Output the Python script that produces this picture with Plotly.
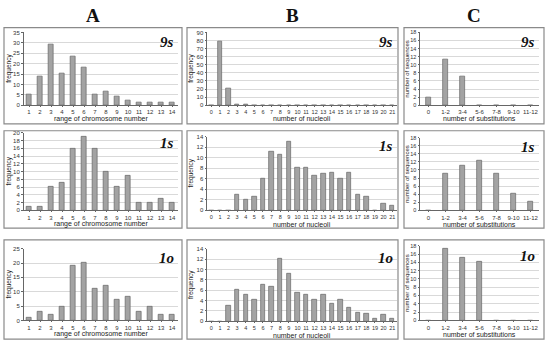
import plotly.graph_objects as go

W, H = 550, 346

# ---- data ----
a_cats = list(range(1, 15))
a_9s = [5.4, 13.6, 29.2, 15.5, 23.5, 18.3, 5.4, 6.5, 4.1, 2.5, 1.3, 1.3, 1.3, 1.3]
a_1s = [1, 1, 6, 7, 16, 19, 16, 10, 6, 9, 2, 2, 3, 2]
a_1o = [1, 3.2, 2, 4.9, 19.2, 20.2, 11.2, 12, 7.4, 8.2, 3.2, 4.9, 2, 2]

b_cats = list(range(0, 22))
b_9s = [0, 79, 21, 1, 1, 0, 0, 0, 0, 0, 0, 0, 0, 0, 0, 0, 0, 0, 0, 0, 0, 0]
b_1s = [0, 0, 0, 3, 2, 2.65, 6.1, 11.2, 10.6, 13.1, 8.1, 8.1, 6.5, 7, 7.1, 6.1, 7.1, 3, 2.65, 0, 1.3, 0.8]
b_1o = [0, 0, 3.1, 6.2, 5.2, 4.1, 7.1, 6.7, 12, 9.1, 5.6, 5.2, 4.1, 5.2, 3.5, 4.1, 2.6, 1.6, 1.5, 0.6, 1.3, 0.6]

c_cats = ["0", "1-2", "3-4", "5-6", "7-8", "9-10", "11-12"]
c_9s = [2, 11.2, 7.2, 0, 0, 0, 0]
c_1s = [0, 9.2, 11.1, 12.3, 9.2, 4.1, 2.1]
c_1o = [0, 17.2, 15.1, 14.2, 0, 0, 0]

col_titles = ["A", "B", "C"]
row_labels = ["9s", "1s", "1o"]
x_titles = ["range of chromosome number", "number of nucleoli", "number of substitutions"]
y_titles = ["frequency", "frequency", "number of sequences"]

# ---- layout geometry (pixels) ----
col_x = [(23.5, 177.5), (207, 396.5), (420, 539)]
panel_y = [
    [(30, 104), (30, 104), (30, 104)],
    [(132, 211), (136, 211), (137, 211)],
    [(250, 323), (250, 324), (247, 323)],
]
y_ranges = [[35, 90, 18], [20, 14, 18], [25, 14, 18]]
y_dticks = [[5, 10, 2], [2, 2, 2], [5, 2, 2]]
box_x = [(4, 182), (187, 398), (404, 544)]
box_y = [(25, 123), (130, 229), (241, 342)]
bar_w = [0.38, 0.52, 0.24]
ytitle_x = [9, 191, 407]

data = [[a_9s, b_9s, c_9s], [a_1s, b_1s, c_1s], [a_1o, b_1o, c_1o]]
cats = [a_cats, b_cats, c_cats]

def px(x):
    return x / W

def py(y):
    return 1 - y / H

fig = go.Figure()
layout = {}
shapes = []
annotations = []
FONT = "Liberation Sans, Arial"
label_font = dict(family=FONT, size=7, color="#222")

n = 0
for r in range(3):
    for c in range(3):
        n += 1
        xa = "x" if n == 1 else f"x{n}"
        ya = "y" if n == 1 else f"y{n}"
        xk = "xaxis" if n == 1 else f"xaxis{n}"
        yk = "yaxis" if n == 1 else f"yaxis{n}"
        fig.add_trace(go.Bar(
            x=cats[c], y=data[r][c], xaxis=xa, yaxis=ya, width=bar_w[c],
            marker=dict(color="#a3a3a3", line=dict(color="#666666", width=0.7)),
            showlegend=False, hoverinfo="x+y",
        ))
        x0, x1 = col_x[c]
        y0, y1 = panel_y[r][c]
        if c == 0:
            xr = [0.5, 14.5]
            tv = a_cats
        elif c == 1:
            xr = [-0.5, 21.5]
            tv = b_cats
        else:
            xr = [-0.5, 6.5]
            tv = None
        xd = dict(domain=[px(x0), px(x1)], anchor=ya, range=xr,
                  showline=True, linecolor="#666", linewidth=1,
                  ticks="outside", ticklen=1, tickcolor="#666",
                  showgrid=False, zeroline=False, tickangle=0,
                  tickfont=dict(family=FONT, size=5.5 if c == 1 else 6, color="#333"),
                  fixedrange=True)
        if tv is not None:
            xd.update(tickmode="array", tickvals=tv, ticktext=[str(v) for v in tv])
        else:
            xd.update(type="category")
        layout[xk] = xd
        layout[yk] = dict(domain=[py(y1), py(y0)], anchor=xa,
                          range=[0, y_ranges[r][c]], dtick=y_dticks[r][c],
                          showline=True, linecolor="#666", linewidth=1,
                          ticks="outside", ticklen=1.5, tickcolor="#666",
                          showgrid=True, gridcolor="#d9d9d9", gridwidth=1,
                          zeroline=False,
                          tickfont=dict(family=FONT, size=5.5 if c == 2 else 6, color="#333"),
                          fixedrange=True)
        # panel box
        bx0, bx1 = box_x[c]
        by0, by1 = box_y[r]
        shapes.append(dict(type="rect", xref="paper", yref="paper",
                           x0=px(bx0), x1=px(bx1), y0=py(by1), y1=py(by0),
                           line=dict(color="#8a8a8a", width=1.2)))
        # x title
        annotations.append(dict(xref="paper", yref="paper",
                                x=px((x0 + x1) / 2), y=py(y1 + 14),
                                text=x_titles[c], showarrow=False,
                                font=label_font, xanchor="center", yanchor="middle"))
        # y title
        annotations.append(dict(xref="paper", yref="paper",
                                x=px(ytitle_x[c]), y=py((y0 + y1) / 2),
                                text=y_titles[c], showarrow=False, textangle=-90,
                                font=dict(family=FONT, size=6.5 if c < 2 else 6, color="#222"),
                                xanchor="center", yanchor="middle"))
        # row label
        annotations.append(dict(xref="paper", yref="paper",
                                x=px(x1 - 2), y=py(y0 + 10),
                                text=f"<b><i>{row_labels[r]}</i></b>", showarrow=False,
                                font=dict(family="Liberation Serif, Times New Roman", size=15, color="#111"),
                                xanchor="right", yanchor="middle"))

for c in range(3):
    annotations.append(dict(xref="paper", yref="paper",
                            x=px((box_x[c][0] + box_x[c][1]) / 2), y=py(13),
                            text=f"<b>{col_titles[c]}</b>", showarrow=False,
                            font=dict(family="Liberation Serif, Times New Roman", size=19, color="#111"),
                            xanchor="center", yanchor="middle"))

fig.update_layout(width=W, height=H, margin=dict(l=0, r=0, t=0, b=0),
                  paper_bgcolor="white", plot_bgcolor="white",
                  bargap=0, shapes=shapes, annotations=annotations, **layout)

fig.write_html("out.html", config={"displayModeBar": False},
               post_script="document.body.style.margin='0';document.body.style.overflow='hidden';")
